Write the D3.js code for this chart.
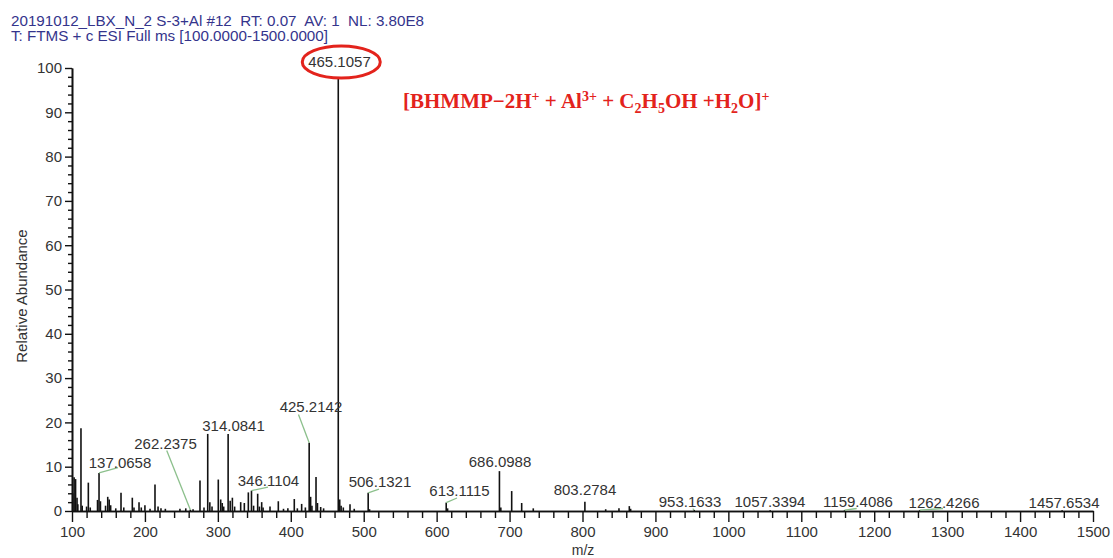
<!DOCTYPE html>
<html>
<head>
<meta charset="utf-8">
<script src="https://cdn.jsdelivr.net/npm/d3@7"></script>
<style>
  html, body { margin: 0; padding: 0; background: #fff; }
  svg { display: block; font-family: "Liberation Sans", Arial, sans-serif; }
</style>
</head>
<body>
<svg id="chart" width="1113" height="558"></svg>
<script>
// Mass spectrum: m/z of each centroid peak and its relative abundance (%)
const mzValues = [
  101.0, 102.9, 104.9, 106.9, 108.0, 112.3, 114.0, 120.0, 122.4, 125.0,
  135.0, 137.0658, 139.0, 146.0, 149.0, 151.0, 153.0, 160.0, 167.2, 171.0,
  182.7, 185.0, 191.9, 195.0, 200.0, 207.0, 213.8, 218.0, 222.0, 228.0,
  248.0, 256.0, 262.2375, 266.0, 275.5, 281.0, 286.1, 289.0, 292.0, 300.6,
  303.9, 306.0, 308.0, 314.0841, 316.9, 319.9, 323.0, 331.3, 336.3, 341.8,
  346.1104, 349.0, 354.6, 357.0, 360.1, 362.0, 371.5, 382.9, 390.0, 396.0,
  404.8, 409.0, 414.9, 420.0, 425.2142, 427.2, 429.0, 434.6, 436.6, 441.0,
  445.0, 465.1057, 467.1, 469.0, 472.0, 481.2, 487.0, 506.1321, 508.0, 613.1115,
  615.0, 686.0988, 688.0, 702.9, 716.6, 732.5, 803.2784, 831.8, 850.0, 864.2,
  866.0, 953.1633, 1057.3394, 1159.4086, 1262.4266, 1457.6534
];
const abundances = [
  4.0, 7.6, 7.2, 3.0, 1.5, 18.7, 1.2, 1.0, 6.4, 0.8,
  2.5, 8.6, 2.2, 1.2, 3.2, 2.6, 1.3, 0.6, 4.1, 0.8,
  3.0, 0.8, 2.0, 0.8, 1.3, 0.5, 6.0, 1.0, 0.6, 0.5,
  0.5, 0.6, 0.3, 0.4, 6.9, 0.8, 17.4, 2.0, 1.0, 7.1,
  2.6, 1.8, 1.0, 17.4, 2.3, 3.0, 1.0, 2.0, 1.8, 4.2,
  4.6, 1.2, 3.9, 1.0, 2.0, 0.8, 1.0, 2.2, 0.5, 0.6,
  2.7, 0.6, 1.6, 0.8, 15.4, 3.2, 1.2, 7.7, 1.8, 0.9,
  0.6, 100, 2.6, 1.2, 0.8, 1.5, 0.5, 4.1, 0.4, 1.9,
  0.6, 9.0, 0.8, 4.5, 1.8, 0.6, 2.1, 0.4, 0.6, 1.1,
  0.5, 0.2, 0.15, 0.2, 0.2, 0.15
];

// Peaks annotated with their m/z
const labeledMz = [
  137.0658, 262.2375, 314.0841, 346.1104, 425.2142, 465.1057, 506.1321, 613.1115,
  686.0988, 803.2784, 953.1633, 1057.3394, 1159.4086, 1262.4266, 1457.6534
];

// Axis ticks
const xMajorTicks = [100, 200, 300, 400, 500, 600, 700, 800, 900, 1000, 1100, 1200, 1300, 1400, 1500];
const yMajorTicks = [0, 10, 20, 30, 40, 50, 60, 70, 80, 90, 100];

// Header lines
const headerLines = [
  "20191012_LBX_N_2 S-3+Al #12  RT: 0.07  AV: 1  NL: 3.80E8",
  "T: FTMS + c ESI Full ms [100.0000-1500.0000]"
];

// Label placement, pixels from the peak apex: [text dx, text dy, leader dx, leader dy] (null = no leader)
const labelLayout = [
  [21, -4.6, 19, -5.4],
  [-24.8, -60.7, -23.6, -59.2],
  [5.4, -3.4, null, null],
  [17, -5.1, 16.5, -3.6],
  [1.8, -30.3, -10.7, -28.3],
  [1.2, -1, null, null],
  [11.8, -5.8, 10.8, -3.8],
  [13.3, -6.6, 10.8, -4.6],
  [0.6, -4.1, null, null],
  [0.1, -6.2, null, null],
  [-4.2, -3.1, -1.5, -1.5],
  [-0.2, -3.3, null, null],
  [13.4, -3.1, 12.1, -1.6],
  [24.3, -2.1, 23.3, -1.6],
  [1.9, -2.3, null, null]
];

const peaks = mzValues.map((mz, i) => ({ mz, v: abundances[i] }));

const svg = d3.select("#chart");
const x = d3.scaleLinear().domain([100, 1500]).range([72, 1093]);
const y = d3.scaleLinear().domain([0, 100]).range([511, 68]);

// Header
svg.append("g").selectAll("text").data(headerLines).join("text")
  .attr("x", 11)
  .attr("y", (d, i) => 25.5 + i * 15.5)
  .attr("font-size", 15.2)
  .attr("fill", "#34348c")
  .style("white-space", "pre")
  .text(d => d);

// Peak sticks
svg.append("g").selectAll("line").data(peaks).join("line")
  .attr("x1", d => x(d.mz)).attr("x2", d => x(d.mz))
  .attr("y1", y(0)).attr("y2", d => y(d.v))
  .attr("stroke", "#111").attr("stroke-width", 1.6);

// Axes
const fmt = d3.format("d");
const yAxis = d3.axisLeft(y).tickValues(yMajorTicks).tickFormat(fmt).tickSize(7).tickPadding(3).tickSizeOuter(0);
const yMinor = d3.axisLeft(y).tickValues(d3.range(0, 101, 2).filter(v => v % 10 !== 0)).tickSize(4).tickFormat("").tickSizeOuter(0);
const xAxis = d3.axisBottom(x).tickValues(xMajorTicks).tickFormat(fmt).tickSize(11).tickPadding(4).tickSizeOuter(0);
const xMinor = d3.axisBottom(x).tickValues(d3.range(100, 1501, 20).filter(v => v % 100 !== 0)).tickSize(7).tickFormat("").tickSizeOuter(0);

function styleAxis(g) {
  g.attr("font-family", null).attr("font-size", null);
  g.select(".domain").attr("stroke", "#111").attr("stroke-width", 1.6);
  g.selectAll(".tick line").attr("stroke", "#111").attr("stroke-width", 1.4);
  g.selectAll(".tick text").attr("font-size", 15).attr("fill", "#333");
}
svg.append("g").attr("transform", "translate(72,0)").call(yMinor).call(styleAxis);
svg.append("g").attr("transform", "translate(72,0)").call(yAxis).call(styleAxis);
svg.append("g").attr("transform", `translate(0,${y(0)})`).call(xMinor).call(styleAxis);
svg.append("g").attr("transform", `translate(0,${y(0)})`).call(xAxis).call(styleAxis);

// Axis titles
svg.append("text")
  .attr("transform", "translate(27,296) rotate(-90)")
  .attr("text-anchor", "middle")
  .attr("font-size", 15).attr("fill", "#333")
  .text("Relative Abundance");
svg.append("text")
  .attr("x", 583).attr("y", 555)
  .attr("text-anchor", "middle")
  .attr("font-size", 14).attr("fill", "#333")
  .text("m/z");

// Peak labels and leader lines
const labels = labeledMz.map((mz, i) => {
  const v = abundances[mzValues.indexOf(mz)];
  const [dx, dy, ldx, ldy] = labelLayout[i];
  return { mz, v, dx, dy, ldx, ldy };
});

// Base-peak highlight
const base = labels.find(d => d.v === 100);
svg.append("ellipse")
  .attr("cx", x(base.mz) + 3).attr("cy", y(base.v) - 6)
  .attr("rx", 39).attr("ry", 16)
  .attr("fill", "#fff")
  .attr("stroke", "#e3231c").attr("stroke-width", 3);

svg.append("g").selectAll("line").data(labels.filter(d => d.ldx !== null)).join("line")
  .attr("x1", d => x(d.mz)).attr("y1", d => y(d.v))
  .attr("x2", d => x(d.mz) + d.ldx).attr("y2", d => y(d.v) + d.ldy)
  .attr("stroke", "#8cc08c").attr("stroke-width", 1.3);

svg.append("g").selectAll("text").data(labels).join("text")
  .attr("x", d => x(d.mz) + d.dx)
  .attr("y", d => y(d.v) + d.dy)
  .attr("text-anchor", "middle")
  .attr("font-size", 15).attr("fill", "#333")
  .text(d => d.mz.toFixed(4));

// Ion assignment
const ion = svg.append("text")
  .attr("x", 403).attr("y", 108)
  .style("font-family", "'Liberation Serif', 'Times New Roman', serif")
  .attr("font-weight", "bold")
  .attr("font-size", 21)
  .attr("fill", "#e3231c");
const parts = [
  ["[BHMMP\u22122H", 0], ["+", 1], [" + Al", 0], ["3+", 1], [" + C", 0], ["2", -1],
  ["H", 0], ["5", -1], ["OH +H", 0], ["2", -1], ["O]", 0], ["+", 1]
];
let shift = 0;
parts.forEach(([t, k]) => {
  const target = k === 1 ? -7 : (k === -1 ? 5 : 0);
  ion.append("tspan")
    .attr("dy", target - shift)
    .attr("font-size", k === 0 ? 21 : 14)
    .text(t);
  shift = target;
});
</script>
</body>
</html>
